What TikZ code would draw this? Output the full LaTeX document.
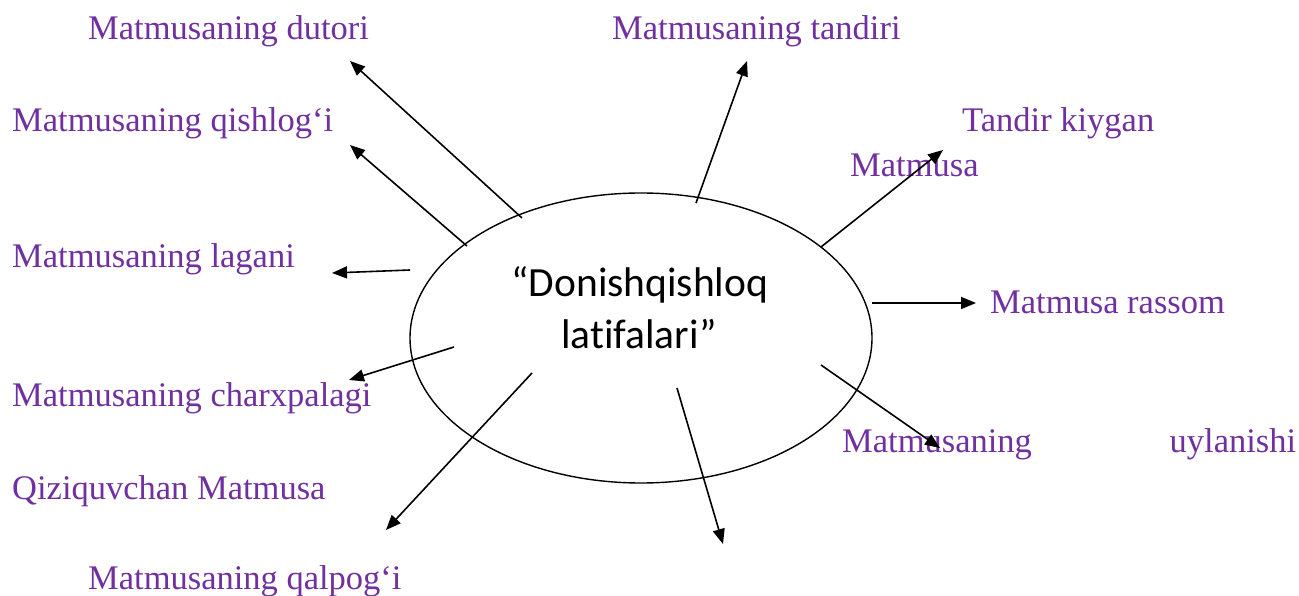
\documentclass[tikz,border=0pt]{standalone}
\usepackage{fontspec}
\setmainfont{Liberation Serif}
\newfontfamily\calib[Ligatures=NoCommon]{Carlito}
\usetikzlibrary{arrows.meta,shapes.geometric}
\definecolor{wpurple}{HTML}{7030A0}
\begin{document}
\begin{tikzpicture}[x=1pt,y=-1pt,
  lbl/.style={anchor=base west,inner sep=0pt,text=wpurple,font=\fontsize{34.5}{40}\selectfont},
  ctext/.style={anchor=base,inner sep=0pt,font=\calib\fontsize{41.5}{48}\selectfont},
  arr/.style={line width=1.6pt,-{Triangle[length=15pt,width=12pt]}}]
\useasboundingbox[fill=white] (0,0) rectangle (1299,596);
% central ellipse
\node[draw,line width=1.4pt,ellipse,minimum width=462pt,minimum height=290pt,inner sep=0pt] (ctr) at (641,338) {};
\node[ctext] (t1) at (640,296) {“Donishqishloq};
\node[ctext] (t2) at (639,348) {latifalari”};
% labels
\node[lbl] (dutori) at (88,40) {Matmusaning dutori};
\node[lbl] (tandiri) at (612,40) {Matmusaning tandiri};
\node[lbl] (qishlog) at (12,132) {Matmusaning qishlog‘i};
\node[lbl] (kiygan) at (962,132) {Tandir kiygan};
\node[lbl] (kiygan2) at (850,177) {Matmusa};
\node[lbl] (lagani) at (12,268) {Matmusaning lagani};
\node[lbl] (rassom) at (990,313) {Matmusa rassom};
\node[lbl] (charx) at (12,406) {Matmusaning charxpalagi};
\node[lbl] (uylan) at (842,452) {\makebox[454pt][l]{Matmusaning\hfill uylanishi}};
\node[lbl] (qiziq) at (12,499) {Qiziquvchan Matmusa};
\node[lbl] (qalpog) at (88,589) {Matmusaning qalpog‘i};
% arrow endpoints
\coordinate (s1) at (522,218); \coordinate (e1) at (350,61);
\coordinate (s2) at (467,246); \coordinate (e2) at (350,145);
\coordinate (s3) at (410,270); \coordinate (e3) at (332,273);
\coordinate (s4) at (696,203); \coordinate (e4) at (747,61);
\coordinate (s5) at (821,247); \coordinate (e5) at (943,150);
\coordinate (s6) at (872,303); \coordinate (e6) at (976,303);
\coordinate (s7) at (821,365); \coordinate (e7) at (940,448);
\coordinate (s8) at (454,347); \coordinate (e8) at (349,380);
\coordinate (s9) at (532,373); \coordinate (e9) at (386,530);
\coordinate (s10) at (677,388); \coordinate (e10) at (723,544);
\foreach \i in {1,...,10} {\draw[arr] (s\i) -- (e\i);}
\end{tikzpicture}
\end{document}
